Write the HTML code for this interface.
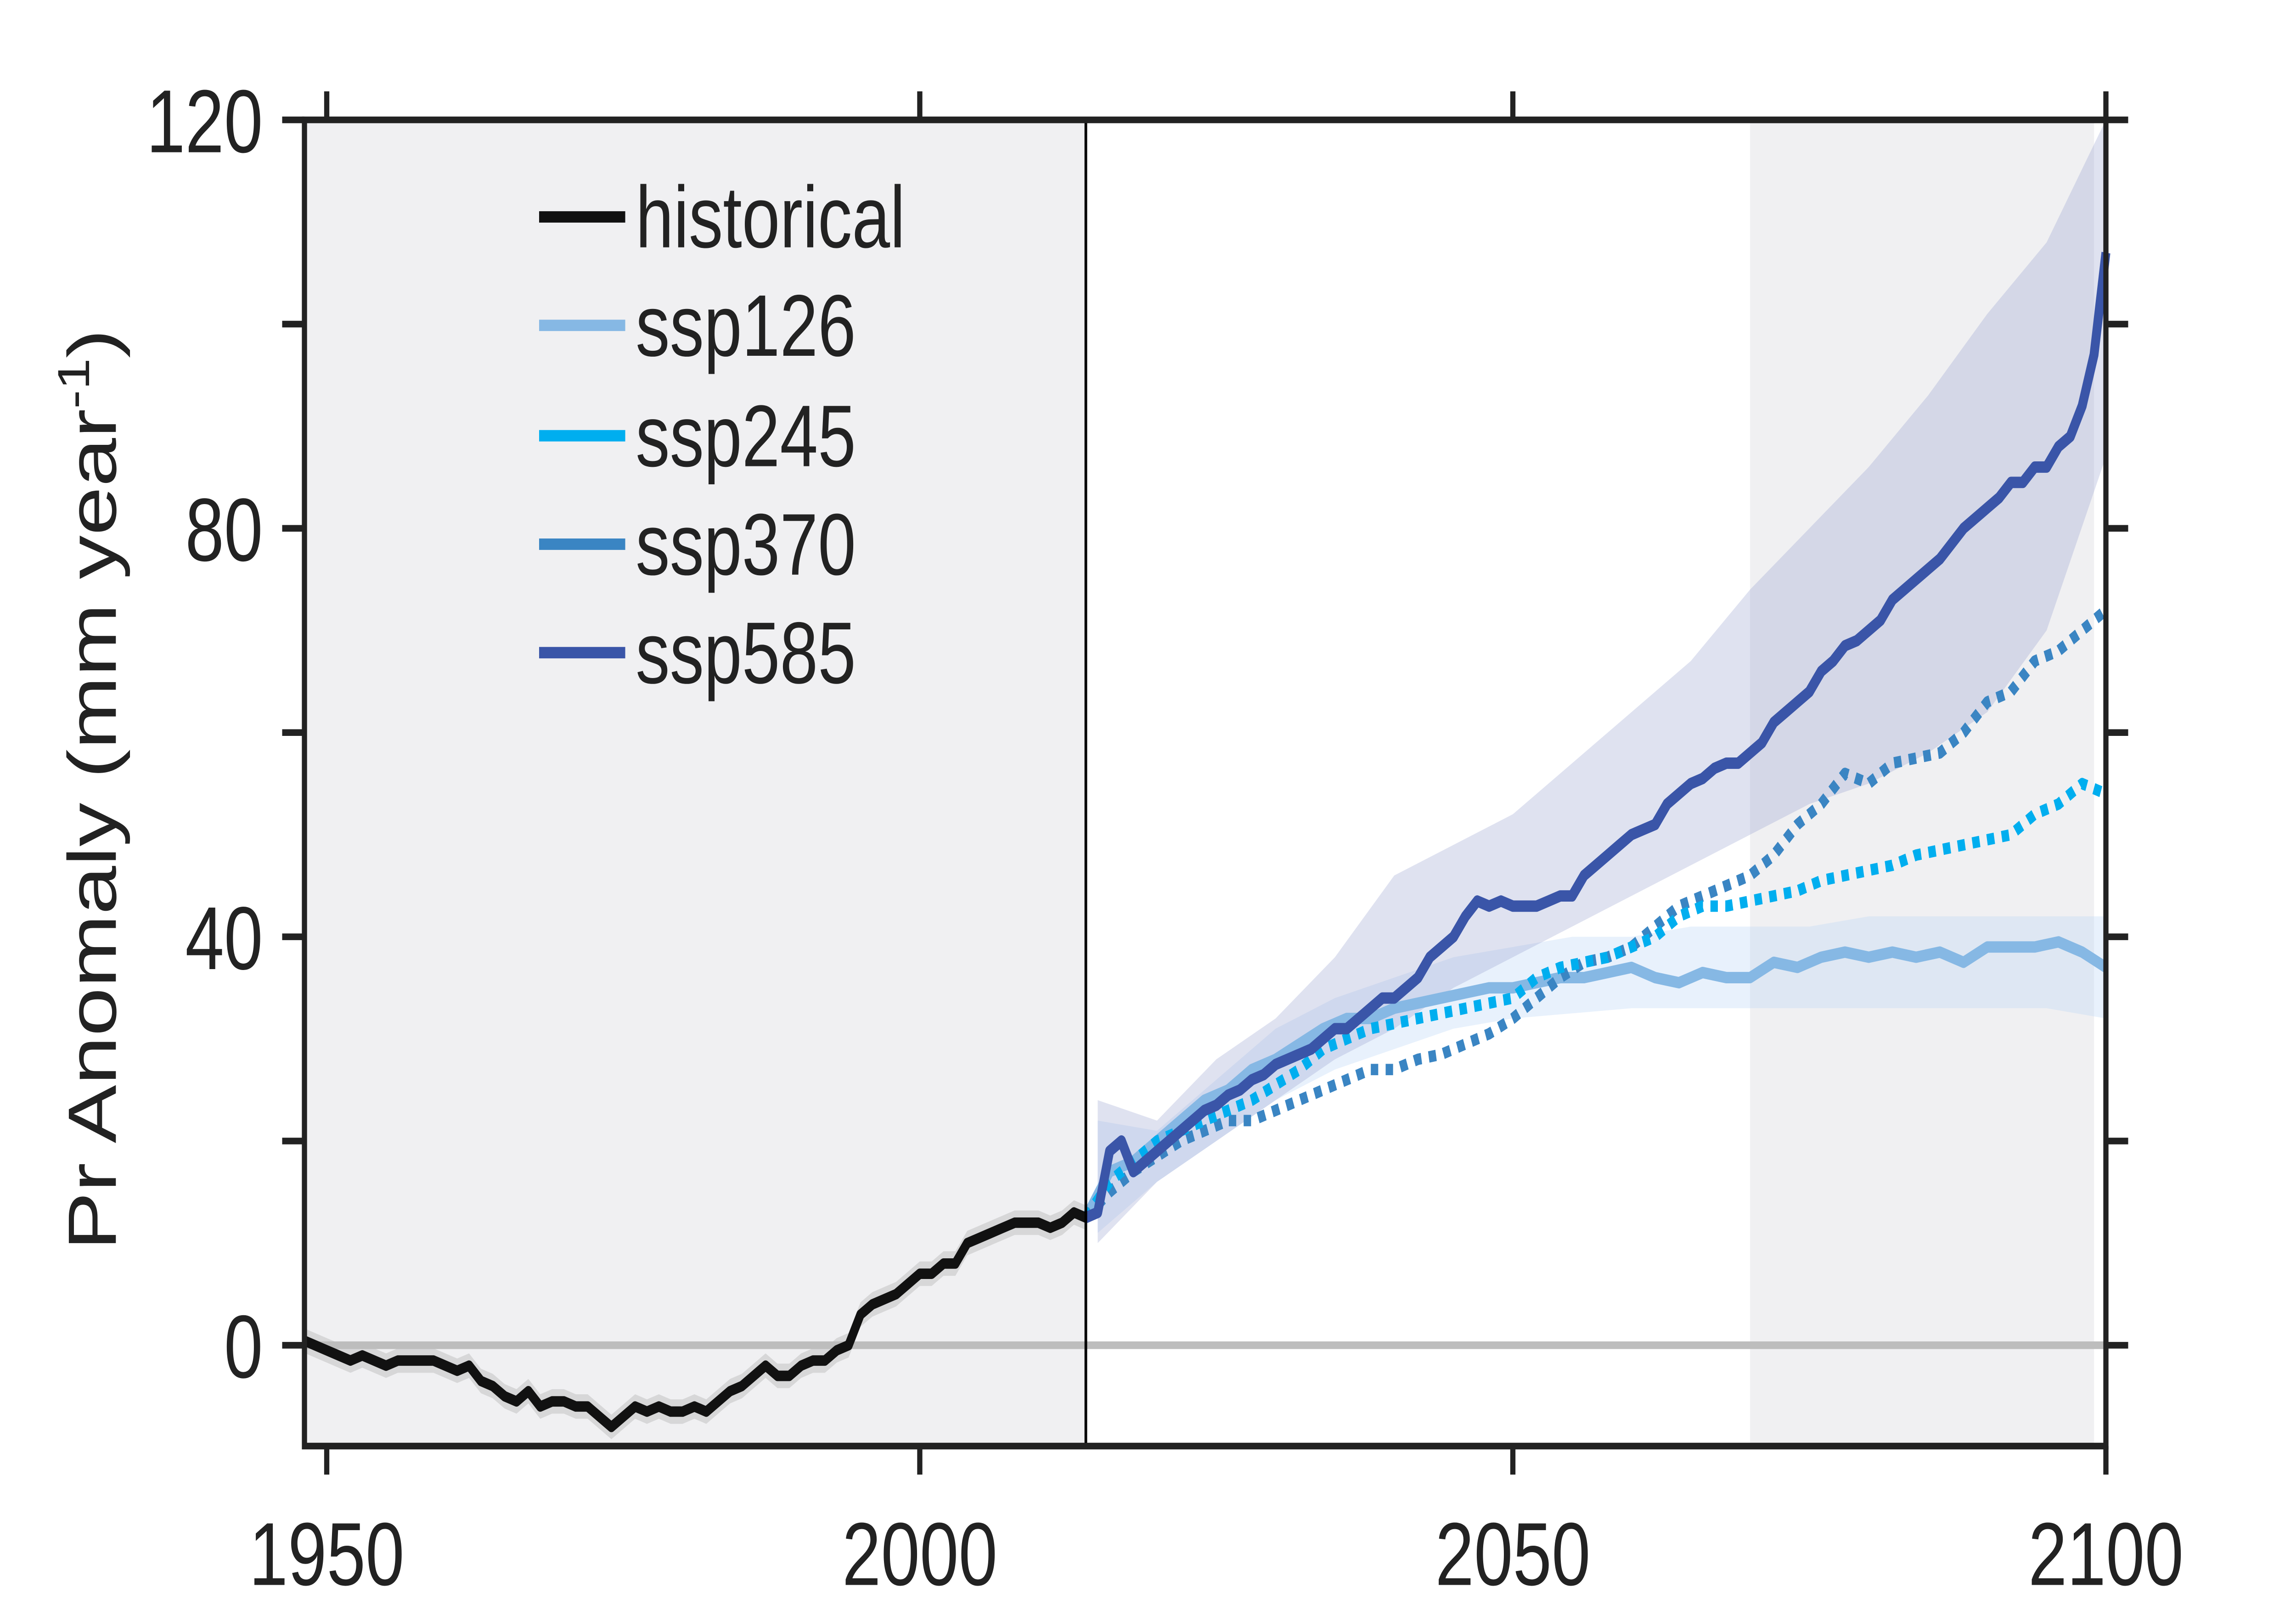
<!DOCTYPE html>
<html><head><meta charset="utf-8"><style>
html,body{margin:0;padding:0;background:#fff;width:100vw;height:100vh;overflow:hidden;}
svg{display:block;width:100vw;height:100vh;}
text{font-family:"Liberation Sans",Arial,sans-serif;fill:#222;}
</style></head><body>
<svg id="chart" width="100%" height="100%" viewBox="0 0 1546 843" preserveAspectRatio="none" xmlns="http://www.w3.org/2000/svg">
<g id="bg"></g>
<g id="bands"></g>
<g id="lines"></g>
<g id="axes"></g>
<text transform="translate(78,415) rotate(-90)" text-anchor="middle" font-size="46">Pr Anomaly (mm year<tspan font-size="30" dy="-18">-1</tspan><tspan dy="18">)</tspan></text>
<g font-size="46">
<line x1="363" x2="421" y1="114" y2="114" stroke="#111" stroke-width="6"/>
<text x="428" y="130">historical</text>
<line x1="363" x2="421" y1="171" y2="171" stroke="#86b8e4" stroke-width="6"/>
<text x="428" y="187">ssp126</text>
<line x1="363" x2="421" y1="229" y2="229" stroke="#00aeef" stroke-width="6"/>
<text x="428" y="245">ssp245</text>
<line x1="363" x2="421" y1="286" y2="286" stroke="#3a85c3" stroke-width="6"/>
<text x="428" y="302">ssp370</text>
<line x1="363" x2="421" y1="343" y2="343" stroke="#3a55a8" stroke-width="6"/>
<text x="428" y="359">ssp585</text>
</g>
</svg>
<script>
const histYears = [];
for (let y = 1948; y <= 2014; y++) histYears.push(y);
const histValues = [0.5,0,-0.5,-1,-1.5,-1,-1.5,-2,-1.5,-1.5,-1.5,-1.5,-2,-2.5,-2,-3.5,-4,-5,-5.5,-4.5,-6,-5.5,-5.5,-6,-6,-7,-8,-7,-6,-6.5,-6,-6.5,-6.5,-6,-6.5,-5.5,-4.5,-4,-3,-2,-3,-3,-2,-1.5,-1.5,-0.5,0,3,4,4.5,5,6,7,7,8,8,10,10.5,11,11.5,12,12,12,11.5,12,13,12.5];
const ssp585Years = [];
for (let y = 2014; y <= 2100; y++) ssp585Years.push(y);
const ssp585Values = [12.5,13,19,20,17,18,19,20,21,22,23,23.5,24.5,25,26,26.5,27.5,28,28.5,29,30,31,31,32,33,34,34,35,36,38,39,40,42,43.5,43,43.5,43,43,43,43.5,44,44,46,47,48,49,50,50.5,51,53,54,55,55.5,56.5,57,57,58,59,61,62,63,64,66,67,68.5,69,70,71,73,74,75,76,77,78.5,80,81,82,83,84.5,84.5,86,86,88,89,92,97,107];
const scenYears = [2014,2016,2018,2020,2022,2024,2026,2028,2030,2032,2034,2036,2038,2040,2042,2044,2046,2048,2050,2052,2054,2056,2058,2060,2062,2064,2066,2068,2070,2072,2074,2076,2078,2080,2082,2084,2086,2088,2090,2092,2094,2096,2098,2100];
const ssp126Values = [12.5,17,18,20,22,24,25,27,28,29.5,31,32,32,33,33.5,34,34.5,35,35,35.5,36,36,36.5,37,36,35.5,36.5,36,36,37.5,37,38,38.5,38,38.5,38,38.5,37.5,39,39,39,39.5,38.5,37];
const ssp245Values = [12.5,16,18,20,21,22,23,24,25.5,27,29,30,31,31.5,32,32.5,33,33.5,34,36,37,37.5,38,39,40,42,43,43,43.5,44,44.5,45.5,46,46.5,47,48,48.5,49,49.5,50,52,53,55,54];
const ssp370Values = [12.5,15,17,18.5,20,21,22,22,23,24,25,26,27,27,28,28.5,29.5,30.5,32,34,36,37.5,38,39,41,43,44,45,46,48,51,53,56,55,57,57.5,58,60,63,64,67,68,70,72];
const bandYears = [2015,2020,2025,2030,2035,2040,2045,2050,2055,2060,2065,2070,2075,2080,2085,2090,2095,2100];
const ssp585Lower = [10,16,20,24,28,31,35,38,41,44,47,50,53,55,58,62,70,87];
const ssp585Upper = [24,22,28,32,38,46,49,52,57,62,67,74,80,86,93,101,108,120];
const ssp126Lower = [11,16,20,24,27,29,31,32,32.5,33,33,33,33,33,33,33,33,32];
const ssp126Upper = [22,21,26,31,34,36,38,39,40,40,41,41,41,42,42,42,42,42];
const xTicks = [1950,2000,2050,2100];
const yTicks = [0,20,40,60,80,100,120];
const yLabels = [0,40,80,120];

const NS = "http://www.w3.org/2000/svg";
const X0 = 220, XS = (1418 - 220) / 150;
const Y0 = 707, YS = (707 - 63) / 120;
const xs = v => X0 + (v - 1950) * XS;
const ys = v => Y0 - v * YS;
const L = 205, R = 1418, T = 63, B = 760;
function mk(tag, parent) { const e = document.createElementNS(NS, tag); document.getElementById(parent).appendChild(e); return e; }
function pts(yrs, vals) { return yrs.map((y, i) => xs(y).toFixed(2) + "," + ys(vals[i]).toFixed(2)).join(" "); }

let r = mk("rect", "bg");


r.setAttribute("x", L); r.setAttribute("y", T); r.setAttribute("width", xs(2014) - L); r.setAttribute("height", B - T); r.setAttribute("fill", "#f0f0f2");
r = mk("rect", "bg");


r.setAttribute("x", xs(2070)); r.setAttribute("y", T); r.setAttribute("width", xs(2099) - xs(2070)); r.setAttribute("height", B - T); r.setAttribute("fill", "#f0f0f2");

function band(name, yrs, lo, hi, fill) {
  const p = mk("polygon", "bands");
  
  
  const up = yrs.map((y, i) => xs(y) + "," + ys(hi[i]));
  const dn = yrs.map((y, i) => xs(y) + "," + ys(lo[i])).reverse();
  p.setAttribute("points", up.concat(dn).join(" "));
  p.setAttribute("fill", fill);
}
band("ssp126-band", bandYears, ssp126Lower, ssp126Upper, "rgba(190,215,245,0.35)");
band("ssp585-band", bandYears, ssp585Lower, ssp585Upper, "rgba(150,160,205,0.3)");
const hl = histValues.map(v => v - 1.2), hu = histValues.map(v => v + 1.2);
band("historical-band", histYears, hl, hu, "rgba(170,170,170,0.35)");

const zl = mk("line", "lines");


zl.setAttribute("x1", L); zl.setAttribute("x2", R); zl.setAttribute("y1", ys(0)); zl.setAttribute("y2", ys(0)); zl.setAttribute("stroke", "#bdbdbd"); zl.setAttribute("stroke-width", "4");

function line(name, yrs, vals, color, w, dash) {
  const p = mk("polyline", "lines");
  
  
  p.setAttribute("points", pts(yrs, vals));
  p.setAttribute("fill", "none"); p.setAttribute("stroke", color); p.setAttribute("stroke-width", w);
  p.setAttribute("stroke-linejoin", "round");
  if (dash) p.setAttribute("stroke-dasharray", dash);
}
line("ssp126-line", scenYears, ssp126Values, "#86b8e4", 6, null);
line("ssp370-line", scenYears, ssp370Values, "#3a85c3", 6, "5,5");
line("ssp245-line", scenYears, ssp245Values, "#00aeef", 6, "5,5");
line("ssp585-line", ssp585Years, ssp585Values, "#3a55a8", 6, null);
line("historical-line", histYears, histValues, "#111", 5.5, null);

const vl = mk("line", "axes");


vl.setAttribute("x1", xs(2014)); vl.setAttribute("x2", xs(2014)); vl.setAttribute("y1", T); vl.setAttribute("y2", B); vl.setAttribute("stroke", "#000"); vl.setAttribute("stroke-width", "1.8");

const fr = mk("rect", "axes");


fr.setAttribute("x", L); fr.setAttribute("y", T); fr.setAttribute("width", R - L); fr.setAttribute("height", B - T); fr.setAttribute("fill", "none"); fr.setAttribute("stroke", "#222"); fr.setAttribute("stroke-width", "3.5");

xTicks.forEach(t => {
  const x = xs(t);
  const a = mk("line", "axes");
  
  
  a.setAttribute("x1", x); a.setAttribute("x2", x); a.setAttribute("y1", T - 15); a.setAttribute("y2", T); a.setAttribute("stroke", "#222"); a.setAttribute("stroke-width", "3.5");
  const b = mk("line", "axes");
  
  
  b.setAttribute("x1", x); b.setAttribute("x2", x); b.setAttribute("y1", B); b.setAttribute("y2", B + 15); b.setAttribute("stroke", "#222"); b.setAttribute("stroke-width", "3.5");
  const tx = mk("text", "axes");
  
  
  tx.setAttribute("x", x); tx.setAttribute("y", 833); tx.setAttribute("text-anchor", "middle"); tx.setAttribute("font-size", "47");
  tx.textContent = t;
});
yTicks.forEach(t => {
  const y = ys(t);
  const a = mk("line", "axes");
  
  
  a.setAttribute("x1", L - 15); a.setAttribute("x2", L); a.setAttribute("y1", y); a.setAttribute("y2", y); a.setAttribute("stroke", "#222"); a.setAttribute("stroke-width", "3.5");
  const b = mk("line", "axes");
  
  
  b.setAttribute("x1", R); b.setAttribute("x2", R + 15); b.setAttribute("y1", y); b.setAttribute("y2", y); b.setAttribute("stroke", "#222"); b.setAttribute("stroke-width", "3.5");
});
yLabels.forEach(t => {
  const tx = mk("text", "axes");
  
  
  tx.setAttribute("x", 177); tx.setAttribute("y", ys(t) + 17); tx.setAttribute("text-anchor", "end"); tx.setAttribute("font-size", "47");
  tx.textContent = t;
});
</script>
</body></html>
